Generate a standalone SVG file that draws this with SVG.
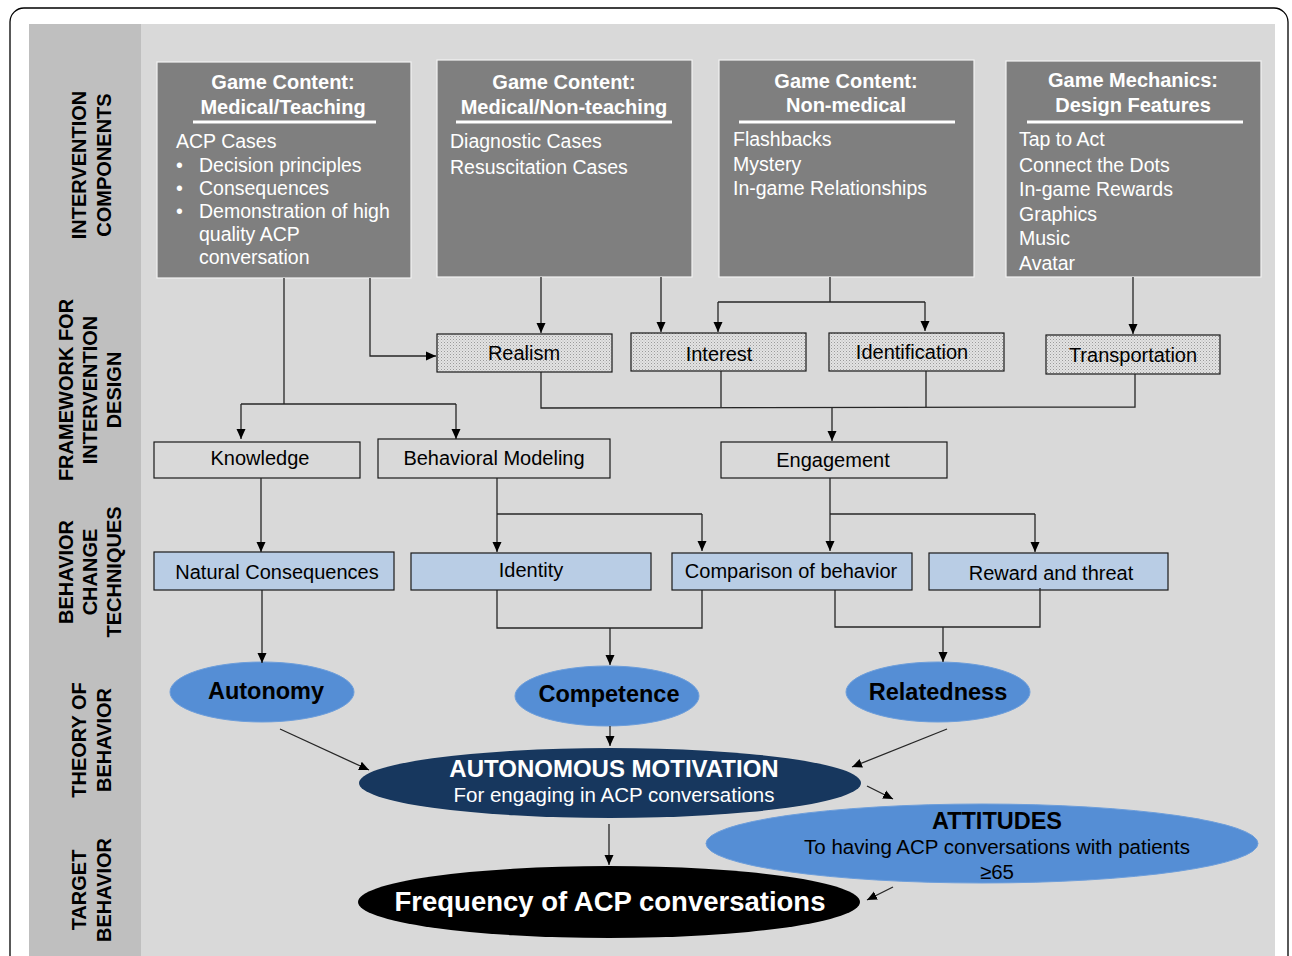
<svg xmlns="http://www.w3.org/2000/svg" width="1292" height="956" viewBox="0 0 1292 956">
<style>
.side{font-family:"Liberation Sans",Arial,sans-serif;font-weight:bold;font-size:20px;fill:#000;text-anchor:middle}
.box{fill:#7f7f7f;stroke:#f2f2f2;stroke-width:1.2}
.ttl{font-family:"Liberation Sans",Arial,sans-serif;font-weight:bold;font-size:20px;fill:#fff;text-anchor:middle}
.bd{font-family:"Liberation Sans",Arial,sans-serif;font-size:19.5px;fill:#fff}
.ul{stroke:#fff;stroke-width:3}
.fw{fill:url(#dots);stroke:#1a1a1a;stroke-width:1.2}
.wb{fill:#d9d9d9;stroke:#1a1a1a;stroke-width:1.2}
.bt{fill:#b9cde5;stroke:#1a1a1a;stroke-width:1.2}
.lbl{font-family:"Liberation Sans",Arial,sans-serif;font-size:20px;fill:#000;text-anchor:middle}
.ell{fill:#558ed5;stroke:#6d9edb;stroke-width:1}
.et{font-family:"Liberation Sans",Arial,sans-serif;font-weight:bold;font-size:23.5px;fill:#000;text-anchor:middle}
.c{fill:none;stroke:#262626;stroke-width:1.3}
.ca{fill:none;stroke:#262626;stroke-width:1.3;marker-end:url(#ah)}
</style>
<defs>
<pattern id="dots" width="3" height="3" patternUnits="userSpaceOnUse">
<rect width="3" height="3" fill="#e3e3e3"/>
<rect x="0" y="0" width="1" height="1" fill="#9a9a9a"/>
<rect x="1.5" y="1.5" width="1" height="1" fill="#b5b5b5"/>
</pattern>
<marker id="ah" markerUnits="userSpaceOnUse" markerWidth="10" markerHeight="10" refX="10" refY="5" orient="auto">
<path d="M0,0.5 L10,5 L0,9.5 z" fill="#000"/>
</marker>
</defs>
<rect x="0" y="0" width="1292" height="956" fill="#fff"/>
<rect x="10" y="8" width="1278" height="1100" rx="14" fill="#fff" stroke="#000" stroke-width="1.3"/>
<rect x="29" y="24" width="112" height="932" fill="#bfbfbf"/>
<rect x="141" y="24" width="1134" height="932" fill="#d9d9d9"/>

<g id="side-labels">
<text class="side" transform="translate(86,165) rotate(-90)">INTERVENTION</text>
<text class="side" transform="translate(111,165) rotate(-90)">COMPONENTS</text>
<text class="side" transform="translate(73,390) rotate(-90)">FRAMEWORK FOR</text>
<text class="side" transform="translate(97,390) rotate(-90)">INTERVENTION</text>
<text class="side" transform="translate(121,390) rotate(-90)">DESIGN</text>
<text class="side" transform="translate(73,572) rotate(-90)">BEHAVIOR</text>
<text class="side" transform="translate(97,572) rotate(-90)">CHANGE</text>
<text class="side" transform="translate(121,572) rotate(-90)">TECHNIQUES</text>
<text class="side" transform="translate(86,740) rotate(-90)">THEORY OF</text>
<text class="side" transform="translate(111,740) rotate(-90)">BEHAVIOR</text>
<text class="side" transform="translate(86,890) rotate(-90)">TARGET</text>
<text class="side" transform="translate(111,890) rotate(-90)">BEHAVIOR</text>
</g>

<g id="box-medical-teaching">
<rect class="box" x="157" y="62" width="254" height="216"/>
<text class="ttl" x="283" y="89">Game Content:</text>
<text class="ttl" x="283" y="114">Medical/Teaching</text>
<line class="ul" x1="193" y1="122" x2="376" y2="122"/>
<text class="bd" x="176" y="148">ACP Cases</text>
<text class="bd" x="176" y="172">•</text>
<text class="bd" x="199" y="172">Decision principles</text>
<text class="bd" x="176" y="195">•</text>
<text class="bd" x="199" y="195">Consequences</text>
<text class="bd" x="176" y="218">•</text>
<text class="bd" x="199" y="218">Demonstration of high</text>
<text class="bd" x="199" y="241">quality ACP</text>
<text class="bd" x="199" y="264">conversation</text>
</g>

<g id="box-medical-nonteaching">
<rect class="box" x="437" y="60" width="255" height="217"/>
<text class="ttl" x="564" y="89">Game Content:</text>
<text class="ttl" x="564" y="114">Medical/Non-teaching</text>
<line class="ul" x1="456" y1="122" x2="672" y2="122"/>
<text class="bd" x="450" y="148">Diagnostic Cases</text>
<text class="bd" x="450" y="174">Resuscitation Cases</text>
</g>

<g id="box-nonmedical">
<rect class="box" x="719" y="60" width="255" height="217"/>
<text class="ttl" x="846" y="88">Game Content:</text>
<text class="ttl" x="846" y="112">Non-medical</text>
<line class="ul" x1="739" y1="122" x2="955" y2="122"/>
<text class="bd" x="733" y="146">Flashbacks</text>
<text class="bd" x="733" y="171">Mystery</text>
<text class="bd" x="733" y="195">In-game Relationships</text>
</g>

<g id="box-mechanics">
<rect class="box" x="1006" y="61" width="255" height="216"/>
<text class="ttl" x="1133" y="87">Game Mechanics:</text>
<text class="ttl" x="1133" y="112">Design Features</text>
<line class="ul" x1="1027" y1="122" x2="1243" y2="122"/>
<text class="bd" x="1019" y="146">Tap to Act</text>
<text class="bd" x="1019" y="172">Connect the Dots</text>
<text class="bd" x="1019" y="196">In-game Rewards</text>
<text class="bd" x="1019" y="221">Graphics</text>
<text class="bd" x="1019" y="245">Music</text>
<text class="bd" x="1019" y="270">Avatar</text>
</g>

<g id="realism"><rect class="fw" x="437" y="334" width="175" height="38"/><text class="lbl" x="524" y="360">Realism</text></g>
<g id="interest"><rect class="fw" x="631" y="333" width="175" height="38"/><text class="lbl" x="719" y="361">Interest</text></g>
<g id="identification"><rect class="fw" x="829" y="333" width="175" height="38"/><text class="lbl" x="912" y="359">Identification</text></g>
<g id="transportation"><rect class="fw" x="1046" y="335" width="174" height="39"/><text class="lbl" x="1133" y="362">Transportation</text></g>

<g id="knowledge"><rect class="wb" x="154" y="442" width="206" height="36"/><text class="lbl" x="260" y="465">Knowledge</text></g>
<g id="behavioral-modeling"><rect class="wb" x="378" y="439" width="232" height="39"/><text class="lbl" x="494" y="465">Behavioral Modeling</text></g>
<g id="engagement"><rect class="wb" x="721" y="442" width="226" height="36"/><text class="lbl" x="833" y="467">Engagement</text></g>

<g id="natural-consequences"><rect class="bt" x="154" y="552" width="240" height="38"/><text class="lbl" x="277" y="579">Natural Consequences</text></g>
<g id="identity"><rect class="bt" x="411" y="553" width="240" height="37"/><text class="lbl" x="531" y="577">Identity</text></g>
<g id="comparison"><rect class="bt" x="672" y="553" width="240" height="37"/><text class="lbl" x="791" y="578">Comparison of behavior</text></g>
<g id="reward-threat"><rect class="bt" x="929" y="553" width="239" height="37"/><text class="lbl" x="1051" y="580">Reward and threat</text></g>

<g id="autonomy"><ellipse class="ell" cx="262" cy="692" rx="92" ry="30"/><text class="et" x="266" y="699">Autonomy</text></g>
<g id="competence"><ellipse class="ell" cx="607" cy="696" rx="92" ry="30"/><text class="et" x="609" y="702">Competence</text></g>
<g id="relatedness"><ellipse class="ell" cx="938" cy="692" rx="92" ry="30"/><text class="et" x="938" y="700">Relatedness</text></g>

<g id="autonomous-motivation">
<ellipse cx="610" cy="783" rx="251" ry="35" fill="#17375e"/>
<text x="614" y="777" font-family="Liberation Sans, Arial, sans-serif" font-weight="bold" font-size="24px" fill="#fff" text-anchor="middle">AUTONOMOUS MOTIVATION</text>
<text x="614" y="802" font-family="Liberation Sans, Arial, sans-serif" font-size="20.5px" fill="#fff" text-anchor="middle">For engaging in ACP conversations</text>
</g>

<g id="attitudes">
<ellipse class="ell" cx="982" cy="843.5" rx="276" ry="39.5"/>
<text x="997" y="829" font-family="Liberation Sans, Arial, sans-serif" font-weight="bold" font-size="23.5px" fill="#000" text-anchor="middle">ATTITUDES</text>
<text x="997" y="854" font-family="Liberation Sans, Arial, sans-serif" font-size="20.5px" fill="#000" text-anchor="middle">To having ACP conversations with patients</text>
<text x="997" y="879" font-family="Liberation Sans, Arial, sans-serif" font-size="20.5px" fill="#000" text-anchor="middle">≥65</text>
</g>

<g id="frequency">
<ellipse cx="609" cy="902" rx="251" ry="36" fill="#000"/>
<text x="610" y="911" font-family="Liberation Sans, Arial, sans-serif" font-weight="bold" font-size="27.5px" fill="#fff" text-anchor="middle">Frequency of ACP conversations</text>
</g>

<g id="connectors">
<polyline class="c" points="284,278 284,404"/>
<polyline class="c" points="241,404 456,404"/>
<polyline class="ca" points="241,404 241,439"/>
<polyline class="ca" points="456,404 456,439"/>
<polyline class="ca" points="370,278 370,356 436,356"/>
<polyline class="ca" points="541,277 541,333"/>
<polyline class="ca" points="661,277 661,332"/>
<polyline class="c" points="830,277 830,302"/>
<polyline class="c" points="718,302 925,302"/>
<polyline class="ca" points="718,302 718,332"/>
<polyline class="ca" points="925,302 925,331"/>
<polyline class="ca" points="1133,277 1133,334"/>
<polyline class="c" points="541,372 541,408 1135,407 1135,374"/>
<polyline class="c" points="721,371 721,407"/>
<polyline class="c" points="926,371 926,407"/>
<polyline class="ca" points="832,408 832,441"/>
<polyline class="ca" points="261,478 261,552"/>
<polyline class="ca" points="497,478 497,552"/>
<polyline class="c" points="497,514 702,514"/>
<polyline class="ca" points="702,514 702,551"/>
<polyline class="ca" points="830,478 830,551"/>
<polyline class="c" points="830,514 1035,514"/>
<polyline class="ca" points="1035,514 1035,552"/>
<polyline class="ca" points="262,590 262,663"/>
<polyline class="c" points="497,590 497,628 702,628 702,590"/>
<polyline class="ca" points="610,628 610,665"/>
<polyline class="c" points="835,590 835,627 1040,627 1040,588"/>
<polyline class="ca" points="943,627 943,662"/>
<line class="ca" x1="280" y1="729" x2="369" y2="770"/>
<line class="ca" x1="610" y1="726" x2="610" y2="746"/>
<line class="ca" x1="947" y1="729" x2="852" y2="767"/>
<line class="ca" x1="609" y1="824" x2="609" y2="865"/>
<line class="ca" x1="867" y1="786" x2="893" y2="799"/>
<line class="ca" x1="893" y1="887" x2="867" y2="900"/>
</g>
</svg>
